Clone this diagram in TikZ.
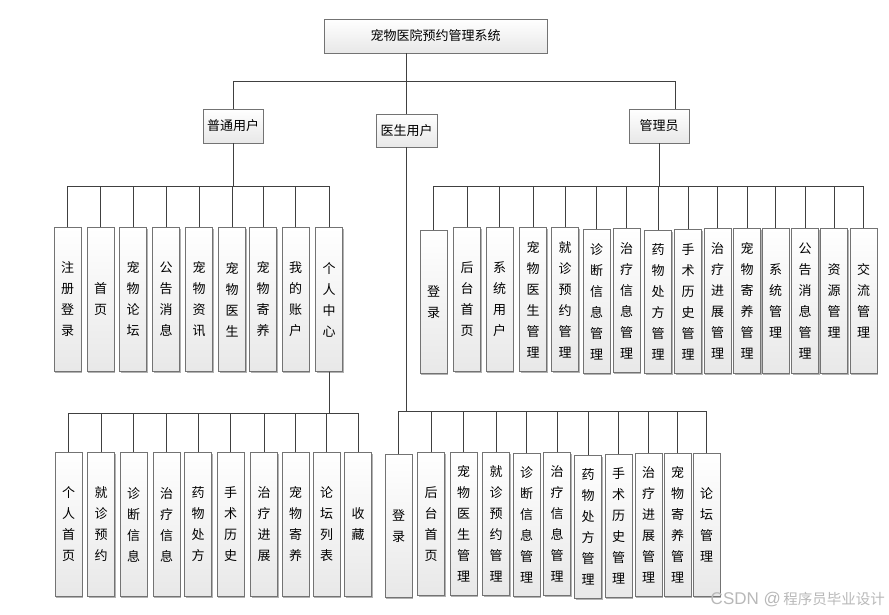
\documentclass[tikz,border=0pt]{standalone}
\usepackage{fontspec}
\setmainfont{Noto Sans CJK SC}
\newfontfamily\wmlatin{Liberation Sans}
\usetikzlibrary{shadows}
\begin{document}
\begin{tikzpicture}[x=1pt,y=-1pt,
  box/.style={draw=black!55, line width=0.9pt, top color=white, bottom color=black!9,
    inner sep=0pt, align=center, font=\fontsize{13}{21}\selectfont,
    drop shadow={shadow xshift=1.2pt, shadow yshift=-1.2pt, opacity=0.55, fill=black!55}},
  vbox/.style={box, minimum width=27pt, minimum height=144pt, anchor=north},
  conn/.style={draw=black!75, line width=0.8pt}]
\useasboundingbox (0,0) rectangle (889,615);

% top levels
\node[box, minimum width=223pt, minimum height=34pt] (sys) at (435.5,36) {宠物医院预约管理系统};
\node[box, minimum width=60pt, minimum height=34pt] (pu) at (233,126) {普通用户};
\node[box, minimum width=61pt, minimum height=33pt] (doc) at (406.5,130.5) {医生用户};
\node[box, minimum width=60pt, minimum height=34pt] (adm) at (659,126) {管理员};

% normal user children
\node[vbox] (u1) at (67.5,227) {注\\册\\登\\录};
\node[vbox] (u2) at (100.5,227) {首\\页};
\node[vbox] (u3) at (133,227) {宠\\物\\论\\坛};
\node[vbox] (u4) at (166,227) {公\\告\\消\\息};
\node[vbox] (u5) at (199,227) {宠\\物\\资\\讯};
\node[vbox] (u6) at (232,227) {宠\\物\\医\\生};
\node[vbox] (u7) at (263,227) {宠\\物\\寄\\养};
\node[vbox] (u8) at (295.5,227) {我\\的\\账\\户};
\node[vbox] (u9) at (329,227) {个\\人\\中\\心};

% personal center children
\node[vbox] (p1) at (68.5,452) {个\\人\\首\\页};
\node[vbox] (p2) at (101,452) {就\\诊\\预\\约};
\node[vbox] (p3) at (133.5,452) {诊\\断\\信\\息};
\node[vbox] (p4) at (166.5,452) {治\\疗\\信\\息};
\node[vbox] (p5) at (198,452) {药\\物\\处\\方};
\node[vbox] (p6) at (230.5,452) {手\\术\\历\\史};
\node[vbox] (p7) at (264,452) {治\\疗\\进\\展};
\node[vbox] (p8) at (295.5,452) {宠\\物\\寄\\养};
\node[vbox] (p9) at (326.5,452) {论\\坛\\列\\表};
\node[vbox] (p10) at (358,452) {收\\藏};

% doctor children
\node[vbox, minimum height=143pt] (d1) at (398.5,454) {登\\录};
\node[vbox, minimum height=143pt] (d2) at (431,452) {后\\台\\首\\页};
\node[vbox, minimum height=143pt] (d3) at (463.5,452) {宠\\物\\医\\生\\管\\理};
\node[vbox, minimum height=143pt] (d4) at (496,452) {就\\诊\\预\\约\\管\\理};
\node[vbox, minimum height=143pt] (d5) at (526.5,453) {诊\\断\\信\\息\\管\\理};
\node[vbox, minimum height=143pt] (d6) at (557,452) {治\\疗\\信\\息\\管\\理};
\node[vbox, minimum height=143pt] (d7) at (588,455) {药\\物\\处\\方\\管\\理};
\node[vbox, minimum height=143pt] (d8) at (618.5,454) {手\\术\\历\\史\\管\\理};
\node[vbox, minimum height=143pt] (d9) at (648.5,453) {治\\疗\\进\\展\\管\\理};
\node[vbox, minimum height=143pt] (d10) at (677.5,453) {宠\\物\\寄\\养\\管\\理};
\node[vbox, minimum height=143pt] (d11) at (706.5,453) {论\\坛\\管\\理};

% admin children
\node[vbox, minimum height=143pt] (a1) at (433.5,230) {登\\录};
\node[vbox] (a2) at (467,227) {后\\台\\首\\页};
\node[vbox] (a3) at (499.5,227) {系\\统\\用\\户};
\node[vbox] (a4) at (533,227) {宠\\物\\医\\生\\管\\理};
\node[vbox] (a5) at (565,227) {就\\诊\\预\\约\\管\\理};
\node[vbox] (a6) at (596.5,229) {诊\\断\\信\\息\\管\\理};
\node[vbox] (a7) at (626.5,228) {治\\疗\\信\\息\\管\\理};
\node[vbox, minimum height=143pt] (a8) at (658,230) {药\\物\\处\\方\\管\\理};
\node[vbox] (a9) at (688,229) {手\\术\\历\\史\\管\\理};
\node[vbox, minimum height=145pt] (a10) at (717.5,228) {治\\疗\\进\\展\\管\\理};
\node[vbox, minimum height=145pt] (a11) at (747,228) {宠\\物\\寄\\养\\管\\理};
\node[vbox, minimum height=145pt] (a12) at (775.5,228) {系\\统\\管\\理};
\node[vbox, minimum height=145pt] (a13) at (805,228) {公\\告\\消\\息\\管\\理};
\node[vbox, minimum height=145pt] (a14) at (834,228) {资\\源\\管\\理};
\node[vbox, minimum height=145pt] (a15) at (863.5,228) {交\\流\\管\\理};

% connectors
\draw[conn] (sys.south -| doc.north) -- (doc.north);
\draw[conn] (sys.south -| doc.north) -- ++(0,28) -| (pu.north);
\draw[conn] (sys.south -| doc.north) -- ++(0,28) -| ([xshift=16pt]adm.north);
\foreach \c in {u1,u2,u3,u4,u5,u6,u7,u8,u9}
  \draw[conn] (pu.south) -- ++(0,43) -| (\c.north);
\foreach \c in {p1,p2,p3,p4,p5,p6,p7,p8,p9,p10}
  \draw[conn] (u9.south) -- ++(0,41) -| (\c.north);
\foreach \c in {d1,d2,d3,d4,d5,d6,d7,d8,d9,d10,d11}
  \draw[conn] (doc.south) -- ++(0,264) -| (\c.north);
\foreach \c in {a1,a2,a3,a4,a5,a6,a7,a8,a9,a10,a11,a12,a13,a14,a15}
  \draw[conn] (adm.south) -- ++(0,43) -| (\c.north);

% watermark
\node[anchor=east, text=black!28, font=\fontsize{14.5}{16}\selectfont, inner sep=0pt] (wm) at (885,600) {{\wmlatin\fontsize{17}{18}\selectfont CSDN @}\,程序员毕业设计};
\end{tikzpicture}
\end{document}
